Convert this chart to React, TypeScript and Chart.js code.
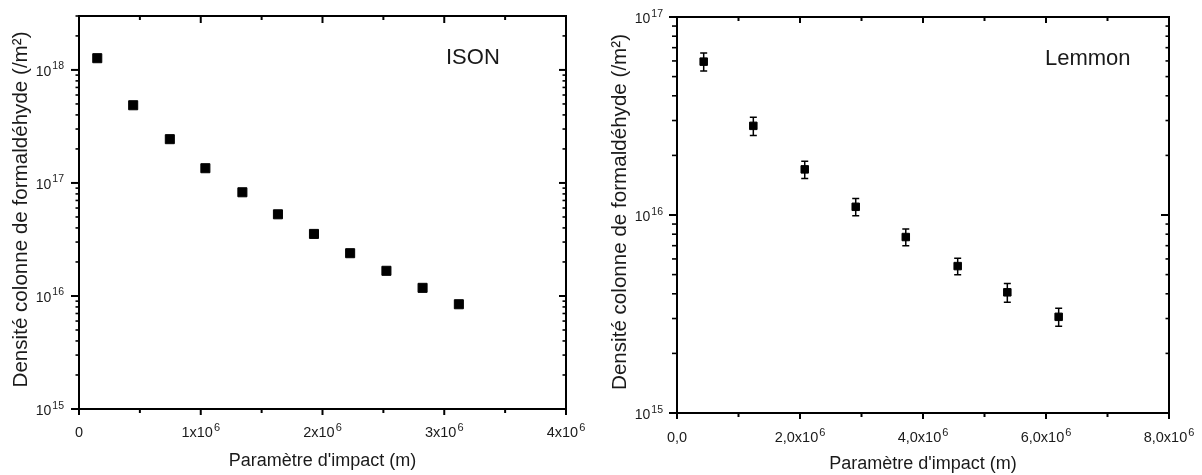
import React, { useEffect, useRef } from "react";
import { Chart, registerables } from "chart.js";

Chart.register(...registerables);

// ---------- DATA ----------
const isonX = [0.15e6, 0.445e6, 0.746e6, 1.038e6, 1.342e6, 1.634e6, 1.93e6, 2.227e6, 2.525e6, 2.822e6, 3.12e6];
const isonY = [1.27e18, 4.87e17, 2.44e17, 1.35e17, 8.27e16, 5.28e16, 3.54e16, 2.39e16, 1.67e16, 1.18e16, 8.45e15];

const lemmonX = [0.434e6, 1.241e6, 2.077e6, 2.906e6, 3.72e6, 4.564e6, 5.371e6, 6.206e6];
const lemmonY = [5.95e16, 2.82e16, 1.7e16, 1.1e16, 7.74e15, 5.52e15, 4.07e15, 3.06e15];
const lemmonErr = [0.62e16, 0.3e16, 0.17e16, 0.11e16, 0.75e15, 0.53e15, 0.44e15, 0.32e15];

const isonXTicks = [0, 1e6, 2e6, 3e6, 4e6];
const isonXTickLabels = ["0", "1x10^6", "2x10^6", "3x10^6", "4x10^6"];
const isonYTicks = [1e15, 1e16, 1e17, 1e18];
const isonYTickLabels = ["10^15", "10^16", "10^17", "10^18"];

const lemmonXTicks = [0, 2e6, 4e6, 6e6, 8e6];
const lemmonXTickLabels = ["0,0", "2,0x10^6", "4,0x10^6", "6,0x10^6", "8,0x10^6"];
const lemmonYTicks = [1e15, 1e16, 1e17];
const lemmonYTickLabels = ["10^15", "10^16", "10^17"];

const xTitle = "Paramètre d'impact (m)";
const yTitle = "Densité colonne de formaldéhyde (/m²)";

const FONT = "'Liberation Sans', Arial, Helvetica, sans-serif";
const TEXT = "#1a1a1a";

function drawSup(ctx: CanvasRenderingContext2D, text: string, x: number, y: number, align: string, baseSize: number, supSize: number, rise: number) {
  const [base, sup] = text.split("^");
  ctx.font = `${baseSize}px ${FONT}`;
  const wb = ctx.measureText(base).width;
  ctx.font = `${supSize}px ${FONT}`;
  const ws = sup ? ctx.measureText(sup).width + 1 : 0;
  const total = wb + ws;
  const left = align === "right" ? x - total : align === "center" ? x - total / 2 : x;
  ctx.textAlign = "left";
  ctx.textBaseline = "alphabetic";
  ctx.font = `${baseSize}px ${FONT}`;
  ctx.fillText(base, left, y);
  if (sup) {
    ctx.font = `${supSize}px ${FONT}`;
    ctx.fillText(sup, left + wb + 1, y - rise);
  }
}

const errorBarPlugin = {
  id: "errBars",
  beforeDatasetsDraw(chart: any, _a: any, opts: any) {
    if (!opts || !opts.err) return;
    const { ctx, scales } = chart;
    const xs = opts.xs as number[];
    const ys = opts.ys as number[];
    const err = opts.err as number[];
    ctx.save();
    ctx.strokeStyle = "#000";
    ctx.lineWidth = 1.5;
    for (let i = 0; i < xs.length; i++) {
      const px = scales.x.getPixelForValue(xs[i]);
      const pt = scales.y.getPixelForValue(ys[i] + err[i]);
      const pb = scales.y.getPixelForValue(ys[i] - err[i]);
      const cw = opts.cap;
      ctx.beginPath();
      ctx.moveTo(px, pt);
      ctx.lineTo(px, pb);
      ctx.moveTo(px - cw, pt);
      ctx.lineTo(px + cw, pt);
      ctx.moveTo(px - cw, pb);
      ctx.lineTo(px + cw, pb);
      ctx.stroke();
    }
    ctx.restore();
  },
};

const axesPlugin = {
  id: "originAxes",
  afterDraw(chart: any, _a: any, o: any) {
    const { ctx, chartArea: a, scales } = chart;
    const xs = scales.x;
    const ys = scales.y;
    ctx.save();
    ctx.strokeStyle = "#000";
    ctx.lineCap = "butt";
    const line = (x1: number, y1: number, x2: number, y2: number, w: number) => {
      ctx.lineWidth = w;
      ctx.beginPath();
      ctx.moveTo(x1, y1);
      ctx.lineTo(x2, y2);
      ctx.stroke();
    };
    // x ticks
    const xt = o.xTicks as number[];
    for (let i = 0; i < xt.length; i++) {
      const px = xs.getPixelForValue(xt[i]);
      line(px, a.bottom, px, a.bottom + o.bMaj, 2);
      line(px, a.top, px, a.top + o.tMaj, 2);
      if (i < xt.length - 1) {
        const pm = xs.getPixelForValue((xt[i] + xt[i + 1]) / 2);
        line(pm, a.bottom, pm, a.bottom + o.bMin, 2);
        line(pm, a.top, pm, a.top + o.tMin, 2);
      }
    }
    // y ticks (log)
    const ymin = ys.min;
    const ymax = ys.max;
    const e0 = Math.floor(Math.log10(ymin));
    const e1 = Math.ceil(Math.log10(ymax));
    for (let e = e0; e <= e1; e++) {
      for (let m = 1; m <= 9; m++) {
        const v = m * Math.pow(10, e);
        if (v < ymin * 0.999 || v > ymax * 1.001) continue;
        const py = ys.getPixelForValue(v);
        const major = m === 1;
        line(a.left - (major ? o.lMaj : o.lMin), py, a.left, py, major ? 2 : 1.6);
        line(a.right - (major ? o.rMaj : o.rMin), py, a.right, py, major ? 2 : 1.6);
      }
    }
    // frame
    ctx.lineWidth = 2;
    ctx.lineJoin = "miter";
    ctx.strokeRect(a.left, a.top, a.right - a.left, a.bottom - a.top);

    ctx.fillStyle = TEXT;
    // x tick labels
    const xl = o.xTickLabels as string[];
    for (let i = 0; i < xt.length; i++) {
      const px = xs.getPixelForValue(xt[i]);
      drawSup(ctx, xl[i], px, a.bottom + o.xLabelOff, "center", 14.5, 11, 5.6);
    }
    // y tick labels
    const yt = o.yTicks as number[];
    const yl = o.yTickLabels as string[];
    for (let i = 0; i < yt.length; i++) {
      const py = ys.getPixelForValue(yt[i]);
      drawSup(ctx, yl[i], a.left - o.yLabelGap, py + 6, "right", 14, 10.5, 6.5);
    }
    // x title
    ctx.font = `18px ${FONT}`;
    ctx.textAlign = "center";
    ctx.textBaseline = "alphabetic";
    ctx.fillText(xTitle, (a.left + a.right) / 2, a.bottom + o.xTitleOff);
    // y title
    ctx.save();
    ctx.translate(o.yTitleX, (a.top + a.bottom) / 2 - 3);
    ctx.rotate(-Math.PI / 2);
    ctx.font = `20.6px ${FONT}`;
    ctx.textAlign = "center";
    ctx.fillText(yTitle, 0, 0);
    ctx.restore();
    // annotation
    ctx.font = `22px ${FONT}`;
    ctx.textAlign = "left";
    ctx.fillText(o.label, o.labelX, o.labelY);
    ctx.restore();
  },
};

function Panel(props: { which: "ison" | "lemmon" }) {
  const ref = useRef<HTMLCanvasElement>(null);
  useEffect(() => {
    if (!ref.current) return;
    const ison = props.which === "ison";
    const xsArr = ison ? isonX : lemmonX;
    const ysArr = ison ? isonY : lemmonY;
    const chart = new Chart(ref.current, {
      type: "scatter",
      data: {
        datasets: [
          {
            data: xsArr.map((x, i) => ({ x, y: ysArr[i] })),
            pointStyle: "rect",
            pointRadius: ison ? 6.4 : 5.3,
            backgroundColor: "#000",
            borderColor: "#000",
            borderWidth: 1,
          },
        ],
      },
      plugins: [errorBarPlugin, axesPlugin],
      options: {
        animation: false,
        responsive: false,
        layout: ison
          ? { padding: { left: 79, right: 35, top: 16, bottom: 66 } }
          : { padding: { left: 76, right: 33, top: 17, bottom: 62 } },
        scales: {
          x: { type: "linear", min: 0, max: ison ? 4e6 : 8e6, display: false },
          y: { type: "logarithmic", min: 1e15, max: ison ? 3e18 : 1e17, display: false },
        },
        plugins: {
          legend: { display: false },
          tooltip: { enabled: false },
          errBars: ison ? {} : { xs: lemmonX, ys: lemmonY, err: lemmonErr, cap: 3.5 },
          originAxes: ison
            ? {
                xTicks: isonXTicks, xTickLabels: isonXTickLabels,
                yTicks: isonYTicks, yTickLabels: isonYTickLabels,
                bMaj: 6, bMin: 4, tMaj: 7, tMin: 4, lMaj: 8, lMin: 3.5, rMaj: 7, rMin: 3.5,
                xLabelOff: 28, yLabelGap: 15, xTitleOff: 57, yTitleX: 27,
                label: "ISON", labelX: 446, labelY: 64,
              }
            : {
                xTicks: lemmonXTicks, xTickLabels: lemmonXTickLabels,
                yTicks: lemmonYTicks, yTickLabels: lemmonYTickLabels,
                bMaj: 6, bMin: 4, tMaj: 6, tMin: 4, lMaj: 8, lMin: 5, rMaj: 8, rMin: 3.5,
                xLabelOff: 29, yLabelGap: 14, xTitleOff: 56, yTitleX: 25,
                label: "Lemmon", labelX: 444, labelY: 65,
              },
        },
      } as any,
    });
    return () => chart.destroy();
  }, [props.which]);
  return <canvas ref={ref} width={601} height={475} style={{ display: "block" }} />;
}

export default function App() {
  return (
    <div style={{ position: "absolute", left: 0, top: 0, width: 1202, height: 475, background: "#fff", display: "flex" }}>
      <Panel which="ison" />
      <Panel which="lemmon" />
    </div>
  );
}
